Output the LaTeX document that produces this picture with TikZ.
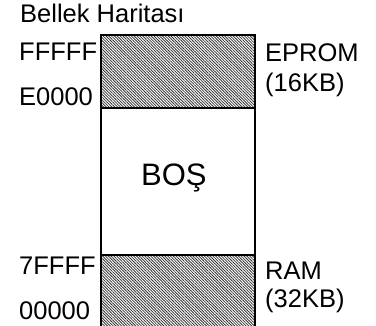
\documentclass[tikz,border=0pt]{standalone}
\usepackage{fontspec}
\setmainfont{Liberation Sans}
\usetikzlibrary{patterns.meta}
\begin{document}
\begin{tikzpicture}[x=1pt,y=1pt,
  lbl/.style={anchor=base west,inner sep=0pt,font=\fontsize{25.5}{30}\selectfont},
  region/.style={draw=black,line width=2pt,minimum width=154pt,inner sep=0pt},
  hatched/.style={region,pattern={Lines[angle=-45,distance=2pt,line width=0.8pt]},pattern color=black!80}]
\useasboundingbox (0,0) rectangle (376,-326);
\clip (0,0) rectangle (376,-326);
\node[hatched,minimum height=73pt] (eprom) at (178,-71.5) {};
\node[region,minimum height=147pt] (bos) at (178,-181.5) {};
\node[hatched,minimum height=90pt] (ram) at (178,-300) {};
\node[lbl] (title) at (20,-22.5) {Bellek Haritası};
\node[lbl] (a1) at (19,-60.5) {FFFFF};
\node[lbl] (a2) at (19,-106) {E0000};
\node[lbl] (a3) at (19,-275) {7FFFF};
\node[lbl] (a4) at (19,-320) {00000};
\node[lbl] (e1) at (265,-62) {EPROM};
\node[lbl] (e2) at (265,-92) {(16KB)};
\node[lbl] (r1) at (265,-280) {RAM};
\node[lbl] (r2) at (265,-308) {(32KB)};
\node[lbl,font=\fontsize{31}{36}\selectfont] (bostxt) at (141,-186) {BOŞ};
\end{tikzpicture}
\end{document}
